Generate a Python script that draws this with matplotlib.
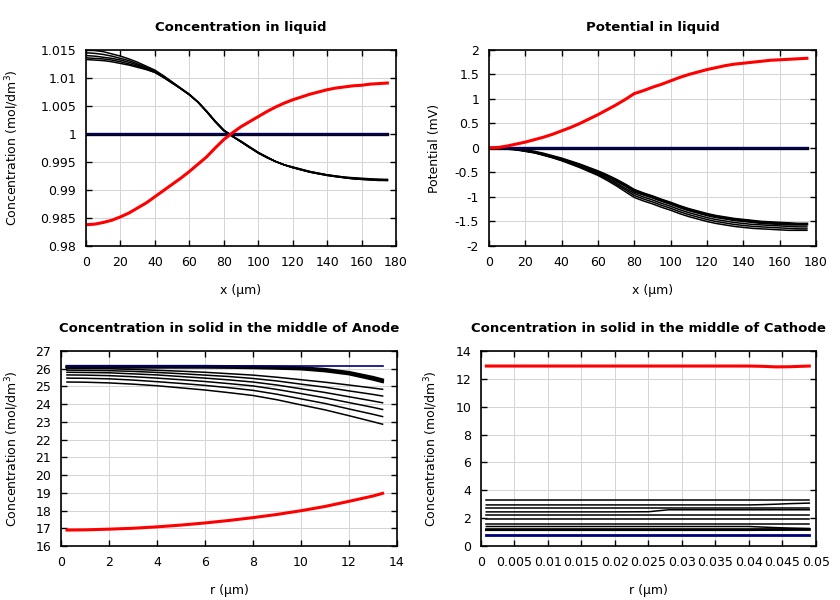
import numpy as np
import matplotlib
matplotlib.use('Agg')
import matplotlib.pyplot as plt
from matplotlib.ticker import FuncFormatter, MultipleLocator

# --- Concentration in liquid (x in um, step 5) ---
x_liq = [0, 5, 10, 15, 20, 25, 30, 35, 40, 45, 50, 55, 60, 65, 70, 75, 80, 85, 90, 95,
         100, 105, 110, 115, 120, 125, 130, 135, 140, 145, 150, 155, 160, 165, 170, 175]
cl_red = [0.9838, 0.9839, 0.9842, 0.9846, 0.9852, 0.9859, 0.9868, 0.9877, 0.9888, 0.9899,
          0.9910, 0.9921, 0.9933, 0.9946, 0.9959, 0.9975, 0.9990, 1.0002, 1.0013, 1.0022,
          1.0031, 1.0040, 1.0048, 1.0055, 1.0061, 1.0066, 1.0071, 1.0075, 1.0079, 1.0082,
          1.0084, 1.0086, 1.0087, 1.0089, 1.0090, 1.0091]
cl_black1 = [1.0150, 1.0149, 1.0147, 1.0143, 1.0139, 1.0134, 1.0128, 1.0121, 1.0114, 1.0104,
             1.0093, 1.0082, 1.0071, 1.0057, 1.0041, 1.0023, 1.0007, 0.9996, 0.9987, 0.9977,
             0.9967, 0.9959, 0.9951, 0.9945, 0.9940, 0.9936, 0.9932, 0.9929, 0.9926, 0.9924,
             0.9922, 0.9920, 0.9919, 0.9918, 0.9917, 0.9917]
cl_black2 = [1.0145, 1.0144, 1.0142, 1.0139, 1.0135, 1.0131, 1.0125, 1.0119, 1.0112, 1.0103,
             1.0092, 1.0081, 1.0071, 1.0057, 1.0041, 1.0023, 1.0007, 0.9996, 0.9987, 0.9977,
             0.9967, 0.9959, 0.9951, 0.9945, 0.9940, 0.9936, 0.9932, 0.9929, 0.9926, 0.9924,
             0.9922, 0.9920, 0.9919, 0.9918, 0.9918, 0.9917]
cl_black3 = [1.0140, 1.0139, 1.0137, 1.0135, 1.0132, 1.0128, 1.0123, 1.0117, 1.0111, 1.0102,
             1.0092, 1.0081, 1.0070, 1.0057, 1.0040, 1.0022, 1.0006, 0.9996, 0.9986, 0.9976,
             0.9967, 0.9958, 0.9951, 0.9945, 0.9940, 0.9936, 0.9932, 0.9929, 0.9927, 0.9924,
             0.9922, 0.9921, 0.9920, 0.9919, 0.9918, 0.9918]
cl_black4 = [1.0136, 1.0135, 1.0134, 1.0132, 1.0129, 1.0125, 1.0121, 1.0116, 1.0110, 1.0101,
             1.0091, 1.0081, 1.0070, 1.0057, 1.0040, 1.0022, 1.0006, 0.9996, 0.9986, 0.9976,
             0.9966, 0.9958, 0.9951, 0.9945, 0.9941, 0.9937, 0.9933, 0.9930, 0.9927, 0.9925,
             0.9923, 0.9921, 0.9920, 0.9919, 0.9919, 0.9918]
cl_black5 = [1.0133, 1.0132, 1.0131, 1.0129, 1.0126, 1.0123, 1.0119, 1.0115, 1.0110, 1.0101,
             1.0091, 1.0081, 1.0070, 1.0057, 1.0040, 1.0022, 1.0006, 0.9996, 0.9986, 0.9976,
             0.9966, 0.9958, 0.9951, 0.9945, 0.9941, 0.9937, 0.9933, 0.9930, 0.9927, 0.9925,
             0.9923, 0.9922, 0.9921, 0.9920, 0.9919, 0.9919]
cl_init = [1.0] * len(x_liq)

# --- Potential in liquid (mV) ---
pot_red = [0, 0.01, 0.04, 0.08, 0.12, 0.17, 0.22, 0.28, 0.35, 0.42, 0.50, 0.59, 0.68, 0.78,
           0.88, 0.99, 1.11, 1.17, 1.24, 1.30, 1.37, 1.44, 1.50, 1.55, 1.60, 1.64, 1.68, 1.71,
           1.73, 1.75, 1.77, 1.79, 1.80, 1.81, 1.82, 1.83]
pot_black1 = [0, 0, -0.01, -0.03, -0.05, -0.08, -0.12, -0.17, -0.22, -0.28, -0.34, -0.41,
              -0.48, -0.56, -0.65, -0.75, -0.86, -0.93, -0.99, -1.06, -1.12, -1.19, -1.25,
              -1.30, -1.35, -1.39, -1.42, -1.45, -1.47, -1.49, -1.51, -1.52, -1.53, -1.54,
              -1.55, -1.55]
pot_black2 = [0, 0, -0.01, -0.03, -0.05, -0.085, -0.13, -0.18, -0.23, -0.29, -0.35, -0.42,
              -0.50, -0.58, -0.68, -0.78, -0.90, -0.96, -1.02, -1.09, -1.15, -1.22, -1.28,
              -1.33, -1.38, -1.42, -1.45, -1.48, -1.50, -1.52, -1.54, -1.55, -1.56, -1.57,
              -1.57, -1.57]
pot_black3 = [0, 0, -0.01, -0.03, -0.06, -0.09, -0.14, -0.19, -0.24, -0.30, -0.37, -0.44,
              -0.52, -0.61, -0.71, -0.82, -0.93, -1.00, -1.06, -1.13, -1.19, -1.26, -1.32,
              -1.37, -1.42, -1.46, -1.49, -1.52, -1.54, -1.56, -1.57, -1.58, -1.59, -1.60,
              -1.61, -1.61]
pot_black4 = [0, 0, -0.01, -0.03, -0.06, -0.095, -0.14, -0.195, -0.25, -0.31, -0.38, -0.46,
              -0.54, -0.63, -0.74, -0.85, -0.97, -1.04, -1.10, -1.17, -1.23, -1.30, -1.36,
              -1.41, -1.46, -1.50, -1.53, -1.56, -1.58, -1.60, -1.61, -1.62, -1.63, -1.64,
              -1.65, -1.65]
pot_black5 = [0, 0, -0.01, -0.03, -0.07, -0.10, -0.15, -0.20, -0.26, -0.33, -0.40, -0.48,
              -0.56, -0.66, -0.77, -0.89, -1.01, -1.08, -1.14, -1.21, -1.27, -1.34, -1.40,
              -1.45, -1.50, -1.54, -1.57, -1.60, -1.62, -1.64, -1.65, -1.66, -1.67, -1.68,
              -1.68, -1.68]
pot_init = [0.0] * len(x_liq)

# --- Concentration in solid, anode (r in um) ---
r_an = [0.25, 1, 2, 3, 4, 5, 6, 7, 8, 9, 10, 11, 12, 13, 13.4]
an_red = [16.90, 16.91, 16.95, 17.00, 17.08, 17.18, 17.30, 17.44, 17.60, 17.78, 17.99,
          18.23, 18.52, 18.82, 18.97]
an_b1 = [26.14, 26.14, 26.14, 26.14, 26.14, 26.14, 26.14, 26.13, 26.12, 26.10, 26.06,
         25.97, 25.80, 25.52, 25.38]
an_b2 = [26.11, 26.11, 26.11, 26.11, 26.11, 26.11, 26.11, 26.10, 26.09, 26.06, 26.02,
         25.92, 25.75, 25.46, 25.32]
an_b3 = [26.08, 26.08, 26.08, 26.08, 26.08, 26.08, 26.08, 26.07, 26.05, 26.02, 25.98,
         25.87, 25.70, 25.40, 25.26]
an_l1 = [26.02, 26.01, 26.00, 25.96, 25.91, 25.86, 25.80, 25.72, 25.64, 25.52, 25.38,
         25.24, 25.08, 24.91, 24.84]
an_l2 = [25.92, 25.91, 25.89, 25.85, 25.79, 25.72, 25.64, 25.56, 25.45, 25.31, 25.13,
         24.96, 24.75, 24.55, 24.46]
an_l3 = [25.80, 25.79, 25.77, 25.71, 25.65, 25.56, 25.47, 25.37, 25.25, 25.08, 24.87,
         24.66, 24.42, 24.18, 24.08]
an_l4 = [25.65, 25.64, 25.61, 25.55, 25.47, 25.38, 25.28, 25.16, 25.03, 24.83, 24.60,
         24.36, 24.09, 23.82, 23.70]
an_l5 = [25.47, 25.46, 25.43, 25.36, 25.27, 25.17, 25.06, 24.93, 24.78, 24.56, 24.30,
         24.04, 23.73, 23.43, 23.30]
an_l6 = [25.25, 25.24, 25.20, 25.13, 25.04, 24.92, 24.80, 24.65, 24.49, 24.25, 23.96,
         23.68, 23.35, 23.01, 22.87]
an_init = [26.15] * len(r_an)

# --- Concentration in solid, cathode ---
r_ca = [0.0008, 0.01, 0.02, 0.025, 0.0265, 0.028, 0.04, 0.042, 0.044, 0.046, 0.049]
ca_red = [12.92, 12.92, 12.92, 12.92, 12.92, 12.92, 12.92, 12.90, 12.86, 12.87, 12.92]
ca_k1 = [3.30] * len(r_ca)
ca_k2 = [2.95, 2.95, 2.95, 2.95, 2.95, 2.95, 2.95, 2.97, 3.00, 3.04, 3.08]
ca_k3 = [2.75] * len(r_ca)
ca_k4 = [2.45, 2.45, 2.45, 2.46, 2.53, 2.60, 2.60, 2.60, 2.60, 2.60, 2.60]
ca_k5 = [2.25] * len(r_ca)
ca_k6 = [1.95] * len(r_ca)
ca_k7 = [1.60] * len(r_ca)
ca_k8 = [1.40, 1.40, 1.40, 1.40, 1.40, 1.40, 1.40, 1.36, 1.32, 1.29, 1.26]
ca_k9 = [1.22] * len(r_ca)
ca_k10 = [1.16, 1.16, 1.16, 1.16, 1.16, 1.16, 1.16, 1.17, 1.18, 1.19, 1.20]
ca_init = [0.76] * len(r_ca)

NAVY = '#00007a'
RED = '#ff0000'
FS = 9


def style_axes(ax, title, xlabel, ylabel, ylab_x):
    ax.set_title(title, fontsize=9.5, fontweight='bold', pad=14)
    ax.set_xlabel(xlabel, fontsize=FS, labelpad=11)
    ax.set_ylabel(ylabel, fontsize=FS)
    ax.yaxis.set_label_coords(ylab_x, 0.5)
    ax.grid(True, color='#d4d4d4', linewidth=0.7)
    ax.set_axisbelow(True)
    ax.tick_params(direction='in', top=True, right=True, length=4, width=1,
                   labelsize=FS, pad=7)
    for sp in ax.spines.values():
        sp.set_linewidth(1.2)
    fmt = FuncFormatter(lambda v, p: '%g' % round(v, 6))
    ax.xaxis.set_major_formatter(fmt)
    ax.yaxis.set_major_formatter(fmt)


fig = plt.figure(figsize=(8.4, 6.0), dpi=100)
ax1 = fig.add_axes([0.1024, 0.59, 0.369, 0.3267])
ax2 = fig.add_axes([0.5821, 0.59, 0.3893, 0.3267])
ax3 = fig.add_axes([0.0726, 0.09, 0.400, 0.325])
ax4 = fig.add_axes([0.5726, 0.09, 0.3988, 0.325])

# 1. concentration in liquid
for c in [cl_black1, cl_black2, cl_black3, cl_black4, cl_black5]:
    ax1.plot(x_liq, c, color='black', linewidth=1.1)
ax1.plot(x_liq, cl_init, color='black', linewidth=2.4)
ax1.plot(x_liq, cl_init, color=NAVY, linewidth=1.2)
ax1.plot(x_liq, cl_red, color=RED, linewidth=2.2)
ax1.set_xlim(0, 180)
ax1.set_ylim(0.98, 1.015)
ax1.xaxis.set_major_locator(MultipleLocator(20))
ax1.yaxis.set_major_locator(MultipleLocator(0.005))
style_axes(ax1, 'Concentration in liquid', 'x (µm)', 'Concentration (mol/dm$^3$)', -0.211)

# 2. potential in liquid
for p in [pot_black1, pot_black2, pot_black3, pot_black4, pot_black5]:
    ax2.plot(x_liq, p, color='black', linewidth=1.1)
ax2.plot(x_liq, pot_black1, color='black', linewidth=2.0)
ax2.plot(x_liq, pot_init, color='black', linewidth=2.4)
ax2.plot(x_liq, pot_init, color=NAVY, linewidth=1.2)
ax2.plot(x_liq, pot_red, color=RED, linewidth=2.2)
ax2.set_xlim(0, 180)
ax2.set_ylim(-2, 2)
ax2.xaxis.set_major_locator(MultipleLocator(20))
ax2.yaxis.set_major_locator(MultipleLocator(0.5))
style_axes(ax2, 'Potential in liquid', 'x (µm)', 'Potential (mV)', -0.148)

# 3. solid anode
for c in [an_b1, an_b2, an_b3]:
    ax3.plot(r_an, c, color='black', linewidth=2.0)
for c in [an_l1, an_l2, an_l3, an_l4, an_l5, an_l6]:
    ax3.plot(r_an, c, color='black', linewidth=1.1)
ax3.plot(r_an, an_init, color=NAVY, linewidth=1.2)
ax3.plot(r_an, an_red, color=RED, linewidth=2.2)
ax3.set_xlim(0, 14)
ax3.set_ylim(16, 27)
ax3.xaxis.set_major_locator(MultipleLocator(2))
ax3.yaxis.set_major_locator(MultipleLocator(1))
style_axes(ax3, 'Concentration in solid in the middle of Anode', 'r (µm)',
           'Concentration (mol/dm$^3$)', -0.12)

# 4. solid cathode
for c in [ca_k1, ca_k2, ca_k3, ca_k4, ca_k5, ca_k6, ca_k7, ca_k8]:
    ax4.plot(r_ca, c, color='black', linewidth=1.1)
for c in [ca_k9, ca_k10]:
    ax4.plot(r_ca, c, color='black', linewidth=1.8)
ax4.plot(r_ca, ca_init, color=NAVY, linewidth=2.0)
ax4.plot(r_ca, ca_red, color=RED, linewidth=2.2)
ax4.set_xlim(0, 0.05)
ax4.set_ylim(0, 14)
ax4.xaxis.set_major_locator(MultipleLocator(0.005))
ax4.yaxis.set_major_locator(MultipleLocator(2))
style_axes(ax4, 'Concentration in solid in the middle of Cathode', 'r (µm)',
           'Concentration (mol/dm$^3$)', -0.121)

plt.savefig('out.png', dpi=100)
